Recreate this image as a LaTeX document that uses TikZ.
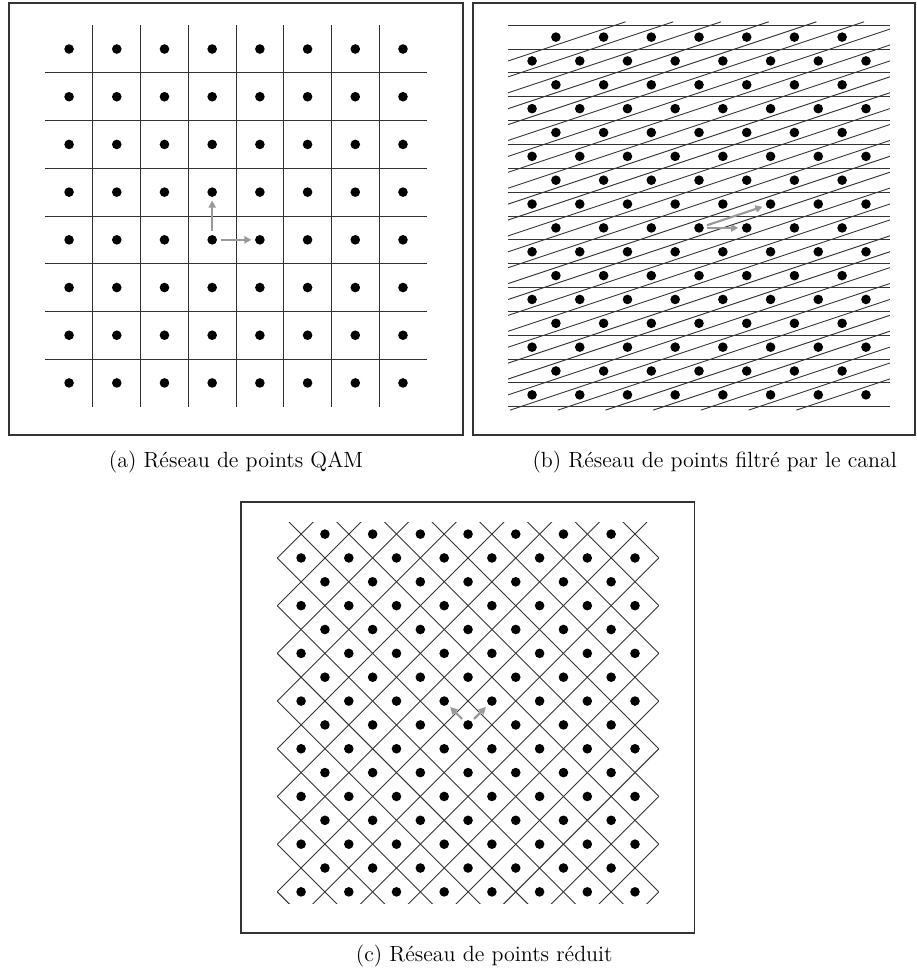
\documentclass[tikz,border=0pt]{standalone}
\usetikzlibrary{arrows.meta}
\definecolor{edge}{HTML}{333333}
\definecolor{vec}{HTML}{999999}

\begin{document}
\begin{tikzpicture}[x=23.85pt,y=23.85pt,
    latpt/.style={circle,fill=black,inner sep=0pt,minimum size=4.8pt},
    cell/.style={edge,line width=0.45pt},
    panel/.style={edge,line width=0.55pt},
    basis/.style={vec,line width=1.1pt,-{Triangle[length=3.6pt,width=3.6pt]},
      shorten <=1.6pt,shorten >=1.6pt},
    subcap/.style={anchor=base,font=\fontsize{11}{13}\selectfont}]
  \useasboundingbox (-4.948,-15.870) rectangle (14.256,4.528);

  % (a) QAM lattice
  \draw[panel] (-4.759,-4.591) rectangle (4.759,4.465);
  \foreach \k in {-3,...,3} {
    \draw[cell] (\k,-4) -- (\k,4);
    \draw[cell] (-4,\k) -- (4,\k);
  }
  \foreach \i in {0,...,7}
    \foreach \j in {0,...,7}
      \node[latpt] (a-\i-\j) at (\i-3.5,\j-3.5) {};
  \draw[basis] (a-3-3) -- (a-4-3);
  \draw[basis] (a-3-3) -- (a-3-4);
  \node[subcap] (capa) at (0,-5.273) {(a) Réseau de points QAM};

  % (b) lattice after the channel
  \begin{scope}[shift={(9.706,0)}]
    \draw[panel] (-4.738,-4.591) rectangle (4.528,4.465);
    \foreach \k in {0,...,16}
      \draw[cell] (-4,4-0.5*\k) -- (4,4-0.5*\k);
    \begin{scope}
      \clip (-4,-4.07) rectangle (4,4.07);
      \foreach \k in {-14,...,14}
        \draw[cell] (\k+0.25-12.21,-4.07) -- (\k+0.25+12.21,4.07);
    \end{scope}
    \foreach \r in {0,2,...,14}
      \foreach \c in {0,...,6}
        \node[latpt] (b-\r-\c) at (\c-3,3.75-0.5*\r) {};
    \foreach \r in {1,3,...,15}
      \foreach \c in {0,...,7}
        \node[latpt] (b-\r-\c) at (\c-3.5,3.75-0.5*\r) {};
    \draw[basis] (b-8-3) -- (b-8-4);
    \draw[basis] (b-8-3) -- (b-7-5);
    \node[subcap] (capb) at (0.33,-5.273) {(b) Réseau de points filtré par le canal};
  \end{scope}

  % (c) reduced lattice
  \begin{scope}[shift={(4.864,-10.419)}]
    \draw[panel] (-4.759,-4.612) rectangle (4.738,4.423);
    \begin{scope}
      \clip (-4,-4) rectangle (4,4);
      \foreach \k in {-8,...,7} {
        \draw[cell] (-8.5,-8.25+\k) -- (8.5,8.75+\k);
        \draw[cell] (-8.5,8.75+\k) -- (8.5,-8.25+\k);
      }
    \end{scope}
    \foreach \r in {0,2,...,14}
      \foreach \c in {0,...,6}
        \node[latpt] (c-\r-\c) at (\c-3,3.75-0.5*\r) {};
    \foreach \r in {1,3,...,15}
      \foreach \c in {0,...,7}
        \node[latpt] (c-\r-\c) at (\c-3.5,3.75-0.5*\r) {};
    \draw[basis] (c-8-3) -- (c-7-3);
    \draw[basis] (c-8-3) -- (c-7-4);
    \node[subcap] (capc) at (0.34,-5.2) {(c) Réseau de points réduit};
  \end{scope}
\end{tikzpicture}
\end{document}
